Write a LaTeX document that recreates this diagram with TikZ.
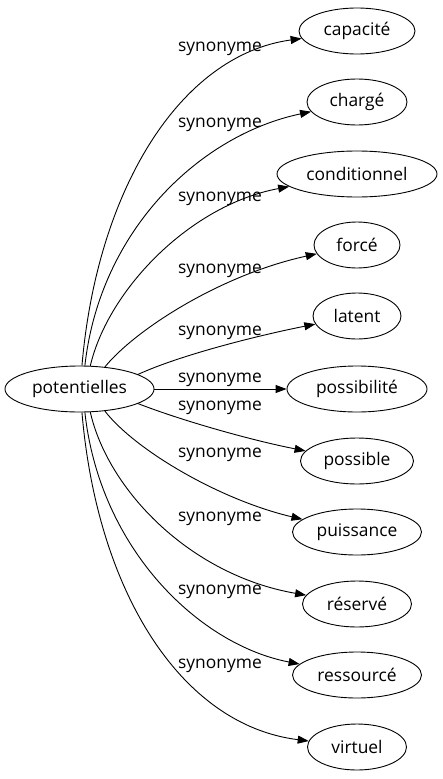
\documentclass[tikz,border=0pt]{standalone}
\usepackage{fontspec}
\setmainfont{Open Sans}
\usetikzlibrary{shapes.geometric,arrows.meta}
\tikzset{
  word/.style={ellipse,draw,line width=0.9pt,inner sep=0pt,minimum height=46pt,font=\fontsize{17.4}{20}\selectfont},
  rel/.style={font=\fontsize{17.4}{20}\selectfont,inner sep=0pt},
  edge/.style={line width=0.9pt,-{Triangle[length=11pt,width=8pt]}}
}
\begin{document}
\begin{tikzpicture}[x=1pt,y=-1pt]
\useasboundingbox (0,0) rectangle (442,779);
\node[word,minimum width=149pt] (p) at (79.5,389) {potentielles};
\node[word,minimum width=116pt] (cap) at (357,31) {capacité};
\node[word,minimum width=100pt] (cha) at (357,102) {chargé};
\node[word,minimum width=160pt] (con) at (357,174) {conditionnel};
\node[word,minimum width=86pt] (for) at (357,245) {forcé};
\node[word,minimum width=88pt] (lat) at (357,316) {latent};
\node[word,minimum width=140pt] (pos) at (357,389) {possibilité};
\node[word,minimum width=113pt] (psb) at (357,461) {possible};
\node[word,minimum width=129pt] (pui) at (357,532) {puissance};
\node[word,minimum width=109pt] (res) at (357,604) {réservé};
\node[word,minimum width=129pt] (rsc) at (357,675) {ressourcé};
\node[word,minimum width=99pt] (vir) at (357,747) {virtuel};

\draw[edge] (p.84) .. controls (97,190) and (180,55) .. (cap);
\draw[edge] (p.77) .. controls (100,230) and (200,135) .. (cha);
\draw[edge] (p.65) .. controls (108,290) and (190,205) .. (con);
\draw[edge] (p.41) .. controls (135,330) and (220,275) .. (for);
\draw[edge] (p.14) .. controls (180,355) and (260,335) .. (lat);
\draw[edge] (p) -- (pos);
\draw[edge] (p.-14) .. controls (180,420) and (250,440) .. (psb);
\draw[edge] (p.-41) .. controls (135,450) and (220,500) .. (pui);
\draw[edge] (p.-65) .. controls (108,490) and (190,575) .. (res);
\draw[edge] (p.-77) .. controls (100,550) and (200,645) .. (rsc);
\draw[edge] (p.-84) .. controls (97,590) and (180,725) .. (vir);

\node[rel] (l1) at (220,49) {synonyme};
\node[rel] (l2) at (220,125) {synonyme};
\node[rel] (l3) at (220,199) {synonyme};
\node[rel] (l4) at (220,271) {synonyme};
\node[rel] (l5) at (220,333) {synonyme};
\node[rel] (l6) at (220,380) {synonyme};
\node[rel] (l7) at (220,408) {synonyme};
\node[rel] (l8) at (220,455) {synonyme};
\node[rel] (l9) at (220,519) {synonyme};
\node[rel] (l10) at (220,592) {synonyme};
\node[rel] (l11) at (220,666) {synonyme};
\end{tikzpicture}
\end{document}
